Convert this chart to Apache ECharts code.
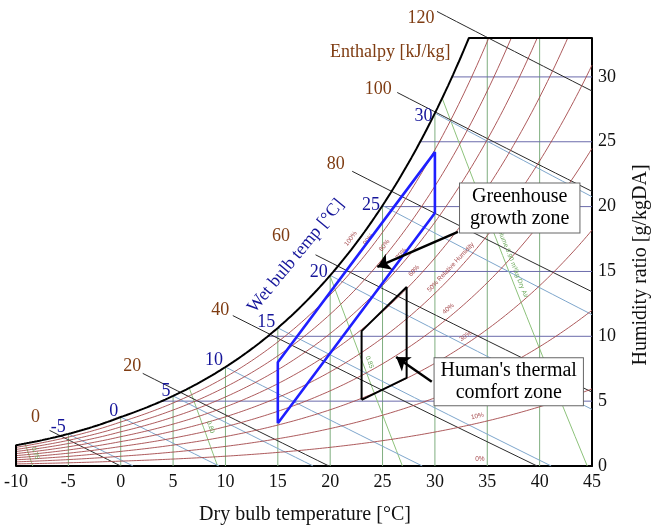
<!DOCTYPE html>
<html>
<head>
<meta charset="utf-8">
<script src="https://cdn.jsdelivr.net/npm/echarts@6/dist/echarts.min.js"></script>
<style>html,body{margin:0;padding:0;background:#fff}#c{width:651px;height:526px}</style>
</head>
<body>
<div id="c"></div>
<script>
// ---------------- DATA ----------------
const dryBulbTicks = [-10, -5, 0, 5, 10, 15, 20, 25, 30, 35, 40, 45];
const humidityTicks = [0, 5, 10, 15, 20, 25, 30];
// saturation vapour pressure table (kPa)
const satTempC = [-10,-9,-8,-7,-6,-5,-4,-3,-2,-1,0,1,2,3,4,5,6,7,8,9,10,11,12,13,14,15,16,17,18,19,20,21,22,23,24,25,26,27,28,29,30,31,32,33,34,35,36,37,38,39,40,41,42,43,44,45];
const satPressureKPa = [0.2600,0.2840,0.3100,0.3382,0.3686,0.4017,0.4375,0.4760,0.5176,0.5626,0.6112,0.6571,0.7060,0.7581,0.8135,0.8726,0.9354,1.0021,1.0730,1.1483,1.2282,1.3129,1.4028,1.4981,1.5989,1.7057,1.8188,1.9383,2.0647,2.1982,2.3392,2.4881,2.6452,2.8109,2.9856,3.1697,3.3637,3.5679,3.7828,4.0089,4.2467,4.4966,4.7592,5.0351,5.3247,5.6286,5.9475,6.2818,6.6324,6.9997,7.3844,7.7873,8.2090,8.6503,9.1118,9.5944];
const rhLevels = [10, 20, 30, 40, 50, 60, 70, 80, 90];
const rhLabelLevels = [100, 90, 80, 70, 60, 50, 40, 30, 20, 10, 0];
const rhLabelTexts = ['100%', '90%', '80%', '70%', '60%', '50% Relative Humidity', '40%', '30%', '20%', '10%', '0%'];
const rhLabelT = [22.5, 24.2, 25.7, 27.3, 28.5, 32.0, 31.7, 33.3, 33.0, 34.2, 34.3];
const wetBulbLevels = [-5, 0, 5, 10, 15, 20, 25, 30];
const enthalpyLevels = [0, 20, 40, 60, 80, 100, 120];
const enthalpyStartT = [-6.8, 2.1, 10.7, 18.6, 22.1, 26.4, 30.2];
const volumeLevels = [0.75, 0.80, 0.85, 0.90];
const volumeLabelTexts = ['0.75', '0.80', '0.85', 'Volume 0.90 m³/kg Dry Air'];
const volumeLabelW = [1.0, 3.0, 8.0, 15.7];
const greenhouseZoneT = [15, 15, 30, 30];
const greenhouseZoneW = [3.3, 8.0, 24.2, 19.5];
const comfortZoneT = [23.0, 23.0, 27.3, 27.3];
const comfortZoneW = [5.1, 10.4, 13.8, 6.8];
const annotationTexts = ['Greenhouse\ngrowth zone', "Human's thermal\ncomfort zone"];
const annotationCenterT = [38.1, 37.05];
const annotationCenterW = [19.9, 6.5];
const arrowTailT = [32.2, 29.7];
const arrowTailW = [18.05, 6.5];
const arrowHeadT = [24.5, 26.3];
const arrowHeadW = [15.35, 8.4];

// ---------------- LAYOUT / STYLE ----------------
const GRID = {left: 16, right: 59, top: 38, bottom: 60};
const W_PX = 651, H_PX = 526;
const X_MIN = -10, X_MAX = 45, Y_MIN = 0, Y_MAX = 33;
const kx = (W_PX - GRID.left - GRID.right) / (X_MAX - X_MIN);
const ky = (H_PX - GRID.top - GRID.bottom) / (Y_MAX - Y_MIN);
const SERIF = '"Liberation Serif", "Times New Roman", serif';
const SANS = '"Liberation Sans", Arial, sans-serif';
const C = {
  rh: '#a4474a', dry: '#7fae7f', hum: '#6b6bab', wb: '#7ea6cc', enth: '#2a2a2a',
  vol: '#8dc27b', brown: '#7f3c12', blue: '#15159a', zone: '#1f1fff'
};
const wbLabelDy = [-7, -6, -5, -7, -6, -3, 0, 3];
const enthLabelOffset = [[-9, -13], [-1, -7], [-3, -5], [-25, -19], [-7, -7], [-5, -3], [-2, 7]];

// ---------------- PSYCHROMETRICS ----------------
const P = 101.325;
function pws(T) {
  let i = Math.floor(T - satTempC[0]);
  i = Math.max(0, Math.min(satTempC.length - 2, i));
  const f = (T - satTempC[i]) / (satTempC[i + 1] - satTempC[i]);
  return Math.exp(Math.log(satPressureKPa[i]) * (1 - f) + Math.log(satPressureKPa[i + 1]) * f);
}
function wFromPw(pw) { return 621.945 * pw / (P - pw); }
function wRH(T, rh) { return wFromPw(rh / 100 * pws(T)); }
function wSat(T) { return wRH(T, 100); }
function tSatOfW(W) {
  let lo = -10, hi = 45;
  for (let i = 0; i < 60; i++) { const m = (lo + hi) / 2; if (wSat(m) < W) lo = m; else hi = m; }
  return (lo + hi) / 2;
}
function wWetBulb(T, twb) {
  const ws = wSat(twb) / 1000;
  return ((2501 - 2.326 * twb) * ws - 1.006 * (T - twb)) / (2501 + 1.86 * T - 4.186 * twb) * 1000;
}
function wEnthalpy(T, h) { return (h - 1.006 * T) / (2501 + 1.86 * T) * 1000; }
function wVolume(T, v) { return (v * P / (0.287042 * (T + 273.15)) - 1) / 1.6078 * 1000; }
function angleDeg(fn, T) {
  const d = 0.05;
  const dW = fn(T + d) - fn(T - d);
  return Math.atan2(dW * ky, 2 * d * kx) * 180 / Math.PI;
}

// ---------------- SERIES ----------------
const series = [];
function line(data, color, width, z, clip) {
  series.push({type: 'line', data, symbol: 'none', showSymbol: false, silent: true, clip: clip !== false,
    lineStyle: {color, width, opacity: 1}, z, animation: false});
}
function text(x, y, str, label, z) {
  series.push({type: 'scatter', data: [[x, y]], symbolSize: 1, itemStyle: {color: 'rgba(0,0,0,0)', opacity: 1},
    silent: true, clip: false, z: z || 20, animation: false,
    label: Object.assign({show: true, formatter: str, opacity: 1}, label)});
}

// dry bulb verticals
dryBulbTicks.filter(t => t > X_MIN && t < X_MAX).forEach(t => {
  line([[t, 0], [t, Math.min(wSat(t), Y_MAX)]], C.dry, 1, 2);
});
// humidity horizontals
humidityTicks.filter(w => w > 0).forEach(w => {
  line([[tSatOfW(w), w], [X_MAX, w]], C.hum, 1, 2);
});
// volume lines
volumeLevels.forEach(v => {
  const t0 = v * P / 0.287042 - 273.15;
  let lo = -10, hi = t0;
  for (let i = 0; i < 60; i++) { const m = (lo + hi) / 2; if (wVolume(m, v) > Math.min(wSat(m), Y_MAX)) lo = m; else hi = m; }
  const t1 = (lo + hi) / 2;
  const pts = [];
  for (let k = 0; k <= 12; k++) { const T = t1 + (t0 - t1) * k / 12; pts.push([T, Math.max(0, wVolume(T, v))]); }
  line(pts, C.vol, 1, 3);
});
// enthalpy lines
enthalpyLevels.forEach((h, i) => {
  const ts = enthalpyStartT[i];
  const te = Math.min(h / 1.006, X_MAX);
  const pts = [];
  for (let k = 0; k <= 16; k++) { const T = ts + (te - ts) * k / 16; pts.push([T, Math.max(0, wEnthalpy(T, h))]); }
  line(pts, C.enth, 1, 3, false);
});
// wet bulb lines
wetBulbLevels.forEach(twb => {
  const ws = wSat(twb) / 1000;
  const te = Math.min(twb + (2501 - 2.326 * twb) * ws / 1.006, X_MAX);
  const pts = [];
  for (let k = 0; k <= 16; k++) { const T = twb + (te - twb) * k / 16; pts.push([T, Math.max(0, wWetBulb(T, twb))]); }
  line(pts, C.wb, 1, 4);
});
// RH curves
rhLevels.forEach(rh => {
  const pts = [];
  for (let T = X_MIN; T <= X_MAX + 1e-6; T += 0.25) { const w = wRH(T, rh); pts.push([T, w]); if (w > Y_MAX) break; }
  line(pts, C.rh, 0.9, 5);
});
// saturation curve + frame
(function () {
  const tTop = tSatOfW(Y_MAX);
  const pts = [[X_MIN, 0]];
  for (let T = X_MIN; T < tTop; T += 0.25) pts.push([T, wSat(T)]);
  pts.push([tTop, Y_MAX], [X_MAX, Y_MAX]);
  line(pts, '#000', 2, 7, false);
})();
// zones
line(greenhouseZoneT.map((t, i) => [t, greenhouseZoneW[i]]).concat([[greenhouseZoneT[0], greenhouseZoneW[0]]]), C.zone, 2.6, 8);
line(comfortZoneT.map((t, i) => [t, comfortZoneW[i]]).concat([[comfortZoneT[0], comfortZoneW[0]]]), '#000', 2, 8);
// arrows
arrowTailT.forEach((t, i) => {
  series.push({type: 'lines', coordinateSystem: 'cartesian2d', silent: true, z: 9, animation: false,
    symbol: ['none', 'arrow'], symbolSize: [0, 13],
    lineStyle: {color: '#000', width: 2.5, opacity: 1},
    data: [{coords: [[t, arrowTailW[i]], [arrowHeadT[i], arrowHeadW[i]]]}]});
});
// annotation boxes
annotationTexts.forEach((s, i) => {
  text(annotationCenterT[i], annotationCenterW[i], s, {position: 'inside', align: 'center', color: '#000',
    fontFamily: SERIF, fontSize: 20, lineHeight: 22, backgroundColor: '#fff', borderColor: '#666', borderWidth: 1,
    padding: i === 0 ? [3, 10, 2, 10] : [2, 6, 1, 6]}, 12);
});
// wet bulb labels
wetBulbLevels.forEach((twb, i) => {
  text(twb, wSat(twb), String(twb), {position: 'left', distance: 2, offset: [0, wbLabelDy[i]],
    color: C.blue, fontFamily: SERIF, fontSize: 18}, 11);
});
// enthalpy labels
enthalpyLevels.forEach((h, i) => {
  const T = enthalpyStartT[i];
  text(T, wEnthalpy(T, h), String(h), {position: 'left', distance: 0, offset: enthLabelOffset[i],
    color: C.brown, fontFamily: SERIF, fontSize: 18}, 11);
});
// RH labels
rhLabelLevels.forEach((rh, i) => {
  const T = rhLabelT[i];
  const fn = t => wRH(t, rh);
  const a = rh === 0 ? 0 : angleDeg(fn, T);
  const r = a * Math.PI / 180, d = 7;
  const x = T - Math.sin(r) * d / kx;
  const y = fn(T) + Math.cos(r) * d / ky;
  text(x, y, rhLabelTexts[i], {position: 'inside', rotate: a, color: C.rh, fontFamily: SANS, fontSize: 6.5}, 6);
});
// volume labels
volumeLevels.forEach((v, i) => {
  const w = volumeLabelW[i];
  let lo = -10, hi = 45;
  for (let k = 0; k < 60; k++) { const m = (lo + hi) / 2; if (wVolume(m, v) > w) lo = m; else hi = m; }
  const T = (lo + hi) / 2;
  const a = angleDeg(t => wVolume(t, v), T);
  text(T + 7 / kx, w, volumeLabelTexts[i], {position: 'inside', rotate: a, color: '#6aa85a', fontFamily: SANS, fontSize: 6.5}, 6);
});

// ---------------- CHART ----------------
const chart = echarts.init(document.getElementById('c'), null, {renderer: 'canvas'});
chart.setOption({
  animation: false,
  backgroundColor: '#fff',
  grid: GRID,
  xAxis: {type: 'value', min: X_MIN, max: X_MAX, interval: 5,
    axisLine: {show: true, onZero: false, lineStyle: {color: '#000', width: 2}},
    axisTick: {show: false}, splitLine: {show: false},
    axisLabel: {color: '#111', fontFamily: SERIF, fontSize: 18, margin: 7,
      formatter: v => dryBulbTicks.indexOf(v) >= 0 ? String(v) : ''}},
  yAxis: {type: 'value', position: 'right', min: Y_MIN, max: Y_MAX, interval: 5,
    axisLine: {show: true, onZero: false, lineStyle: {color: '#000', width: 2}},
    axisTick: {show: false}, splitLine: {show: false},
    axisLabel: {color: '#111', fontFamily: SERIF, fontSize: 18, margin: 6,
      formatter: v => humidityTicks.indexOf(v) >= 0 ? String(v) : ''}},
  series: series,
  graphic: [
    {type: 'text', x: 330, y: 52, silent: true, z: 20,
      style: {text: 'Enthalpy [kJ/kg]', font: '18px ' + SERIF, fill: C.brown, textAlign: 'left', textVerticalAlign: 'middle', align: 'left', verticalAlign: 'middle'}},
    {type: 'text', x: 296, y: 256, rotation: 50.6 * Math.PI / 180, silent: true, z: 20,
      style: {text: 'Wet bulb temp [°C]', font: '18px ' + SERIF, fill: C.blue, textAlign: 'center', textVerticalAlign: 'middle', align: 'center', verticalAlign: 'middle'}},
    {type: 'text', x: 305, y: 515, silent: true, z: 20,
      style: {text: 'Dry bulb temperature [°C]', font: '20px ' + SERIF, fill: '#111', textAlign: 'center', textVerticalAlign: 'middle', align: 'center', verticalAlign: 'middle'}},
    {type: 'text', x: 641, y: 265, rotation: Math.PI / 2, silent: true, z: 20,
      style: {text: 'Humidity ratio [g/kgDA]', font: '20px ' + SERIF, fill: '#111', textAlign: 'center', textVerticalAlign: 'middle', align: 'center', verticalAlign: 'middle'}}
  ]
});
</script>
</body>
</html>
